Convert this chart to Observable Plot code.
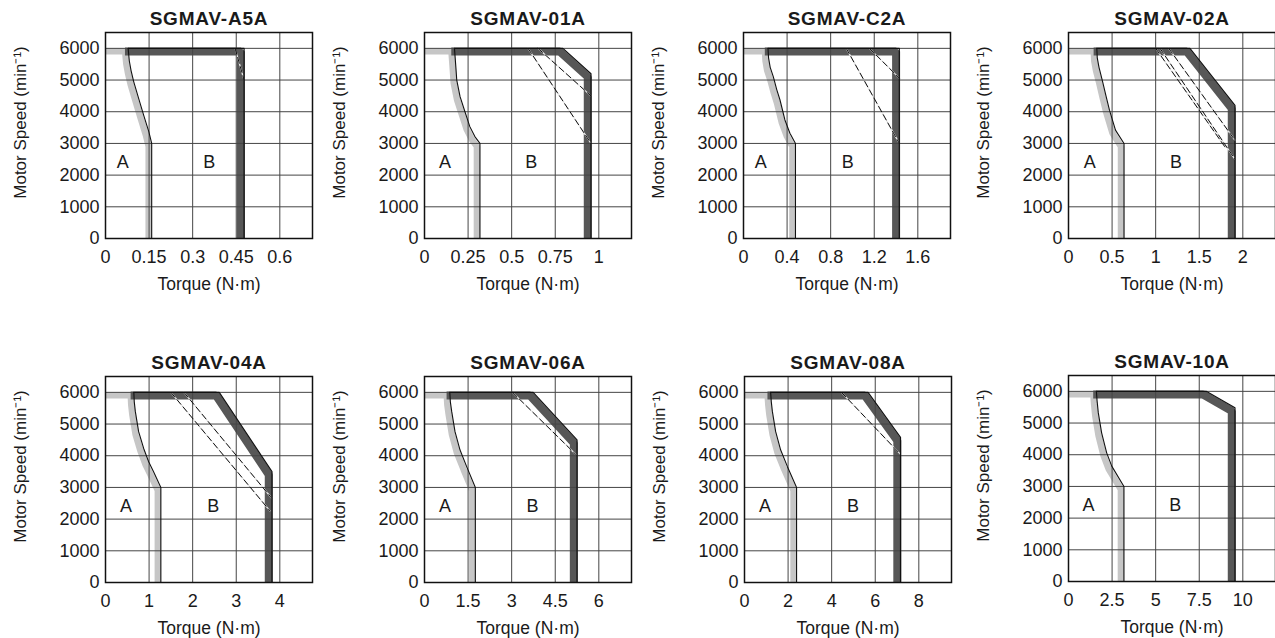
<!DOCTYPE html>
<html><head><meta charset="utf-8">
<script src="https://cdn.jsdelivr.net/npm/d3@7"></script>
<script src="https://cdn.jsdelivr.net/npm/@observablehq/plot@0.6"></script>
<style>
html,body{margin:0;padding:0;background:#fff;overflow:hidden;}
#root{position:relative;width:1275px;height:638px;overflow:hidden;background:#fff;}
#root svg{position:absolute;}
</style></head><body><div id="root"></div>
<script>
// ---------- data ----------
const models = ["SGMAV-A5A","SGMAV-01A","SGMAV-C2A","SGMAV-02A","SGMAV-04A","SGMAV-06A","SGMAV-08A","SGMAV-10A"];
const torqueTicks = [[0,0.15,0.3,0.45,0.6],[0,0.25,0.5,0.75,1],[0,0.4,0.8,1.2,1.6],[0,0.5,1,1.5,2],[0,1,2,3,4],[0,1.5,3,4.5,6],[0,2,4,6,8],[0,2.5,5,7.5,10]];
const torqueMax = [0.7125,1.1875,1.9,2.375,4.75,7.125,9.5,11.875];
const speedTicks = [0,1000,2000,3000,4000,5000,6000];
const speedMax = 6500;
// continuous duty limit (zone A), [torque N·m, speed min-1]
const continuousCurves = [
  [[0,6000],[0.078,6000],[0.082,5600],[0.088,5300],[0.097,4950],[0.114,4420],[0.131,3900],[0.149,3370],[0.159,3000],[0.159,0]],
  [[0,6000],[0.172,6000],[0.176,5700],[0.18,5400],[0.185,5000],[0.204,4475],[0.232,4000],[0.26,3530],[0.289,3215],[0.318,3000],[0.318,0]],
  [[0,6000],[0.225,6000],[0.23,5700],[0.245,5400],[0.274,5100],[0.305,4700],[0.335,4370],[0.38,3740],[0.426,3320],[0.477,3000],[0.477,0]],
  [[0,6000],[0.325,6000],[0.33,5700],[0.35,5400],[0.387,5000],[0.43,4500],[0.47,4050],[0.539,3420],[0.637,3000],[0.637,0]],
  [[0,6000],[0.65,6000],[0.66,5700],[0.685,5390],[0.76,4760],[0.876,4230],[0.99,3810],[1.1,3500],[1.27,3000],[1.27,0]],
  [[0,6000],[0.87,6000],[0.89,5700],[0.937,5390],[1.05,4760],[1.223,4180],[1.451,3655],[1.75,3000],[1.75,0]],
  [[0,6000],[1.2,6000],[1.23,5700],[1.28,5390],[1.43,4760],[1.66,4180],[1.97,3655],[2.39,3000],[2.39,0]],
  [[0,6000],[1.6,6000],[1.64,5700],[1.71,5320],[1.9,4690],[2.19,4060],[2.48,3640],[3.18,3000],[3.18,0]]
];
// intermittent duty limit (zone B)
const peakCurves = [
  [[0.078,6000],[0.477,6000],[0.477,0]],
  [[0.172,6000],[0.794,6000],[0.955,5200],[0.955,0]],
  [[0.225,6000],[1.43,6000],[1.43,0]],
  [[0.325,6000],[1.393,6000],[1.91,4200],[1.91,0]],
  [[0.65,6000],[2.61,6000],[3.82,3500],[3.82,0]],
  [[0.87,6000],[3.74,6000],[5.25,4500],[5.25,0]],
  [[1.2,6000],[5.67,6000],[7.16,4580],[7.16,0]],
  [[1.6,6000],[7.9,6000],[9.55,5480],[9.55,0]]
];
// dashed limit lines
const dashedCurves = [
  [[[0.446,6000],[0.477,5000]]],
  [[[0.594,6000],[0.955,3000]],[[0.651,6000],[0.955,4500]]],
  [[[0.943,6000],[1.43,3000]],[[1.156,6000],[1.43,5060]]],
  [[[1.0,6000],[1.8,2870]],[[1.05,6000],[1.91,2500]],[[1.15,6000],[1.91,3100]]],
  [[[1.5,6000],[3.78,2250]],[[1.8,6000],[3.82,2650]]],
  [[[3.03,6000],[5.22,4030]]],
  [[[4.45,6000],[7.15,4050]]],
  []
];
const zoneNames = ["A","B"];
const zoneTorque = [[0.059,0.357],[0.118,0.613],[0.158,0.958],[0.243,1.233],[0.472,2.475],[0.709,3.714],[0.945,4.98],[1.143,6.13]];
const zoneSpeed = 2400;
const xLabel = "Torque (N·m)";
const yLabel = "Motor Speed (min⁻¹)";

// ---------- layout ----------
const frameLeft = [105,424.3,743.3,1067.7,105,424.3,743.7,1068.3];
const frameTop = [32.3,32.3,32.3,32.3,376.3,376.3,376.3,374.7];
const FW = 207, FH = 206, ML = 105, MR = 10, MT = 35, MB = 62;

const root = document.getElementById("root");
const X = d => d[0], Y = d => d[1];

models.forEach((title, i) => {
  const dashes = dashedCurves[i].flatMap((seg, k) => seg.map(p => ({t: p[0], s: p[1], k})));
  const labels = zoneNames.map((n, j) => ({n, t: zoneTorque[i][j], s: zoneSpeed}));
  const svg = Plot.plot({
    width: ML + FW + MR, height: MT + FH + MB,
    marginLeft: ML, marginRight: MR, marginTop: MT, marginBottom: MB,
    x: {domain: [0, torqueMax[i]]},
    y: {domain: [0, speedMax]},
    style: {fontFamily: "'Liberation Sans', Arial, sans-serif", fontSize: "18px", color: "#1a1a1a", background: "transparent", overflow: "visible"},
    marks: [
      Plot.line(continuousCurves[i], {x: X, y: Y, stroke: "#c6c6c6", strokeWidth: 6.5, dx: -3, dy: 3, strokeLinejoin: "miter", strokeLinecap: "butt", clip: true}),
      Plot.line(peakCurves[i], {x: X, y: Y, stroke: "#575757", strokeWidth: 8, dx: -3.2, dy: 3.2, strokeLinejoin: "miter", strokeLinecap: "butt", clip: true}),
      Plot.line(dashes, {x: "t", y: "s", z: "k", stroke: "#e8e8e8", strokeWidth: 1.3, clip: true}),
      Plot.gridX(torqueTicks[i], {stroke: "#454545", strokeOpacity: 1, strokeWidth: 1}),
      Plot.gridY(speedTicks, {stroke: "#454545", strokeOpacity: 1, strokeWidth: 1}),
      Plot.line(continuousCurves[i].slice(1), {x: X, y: Y, stroke: "#111", strokeWidth: 1.1, clip: true}),
      Plot.line(peakCurves[i], {x: X, y: Y, stroke: "#111", strokeWidth: 1.2, clip: true}),
      Plot.line(dashes, {x: "t", y: "s", z: "k", stroke: "#111", strokeWidth: 1, strokeDasharray: "6,3.5", clip: true}),
      Plot.frame({stroke: "#111", strokeWidth: 1.5}),
      Plot.axisX({ticks: torqueTicks[i], tickFormat: d => String(d), tickSize: 0, tickPadding: 11.5, label: null, fontSize: 18}),
      Plot.axisY({ticks: speedTicks, tickFormat: d => String(d), tickSize: 0, tickPadding: 6, label: null, fontSize: 18}),
      Plot.text(labels, {x: "t", y: "s", text: "n", fontSize: 18, fill: "#1a1a1a"}),
      Plot.text([title], {frameAnchor: "top", textAnchor: "middle", lineAnchor: "middle", dy: -13.4, fontSize: 19, fontWeight: "bold", fill: "#1a1a1a"}),
      Plot.text([xLabel], {frameAnchor: "bottom", textAnchor: "middle", lineAnchor: "middle", dy: 45.4, fontSize: 17.5, fill: "#1a1a1a"}),
      Plot.text([yLabel], {frameAnchor: "left", textAnchor: "middle", lineAnchor: "middle", rotate: -90, dx: -84.5, dy: -13, fontSize: 17, fill: "#1a1a1a"})
    ]
  });
  svg.style.left = (frameLeft[i] - ML) + "px";
  svg.style.top = (frameTop[i] - MT) + "px";
  d3.select(svg).selectAll("text").filter(function(){ return this.textContent === title; }).style("letter-spacing", "0.8px");
  root.appendChild(svg);
});
</script></body></html>
